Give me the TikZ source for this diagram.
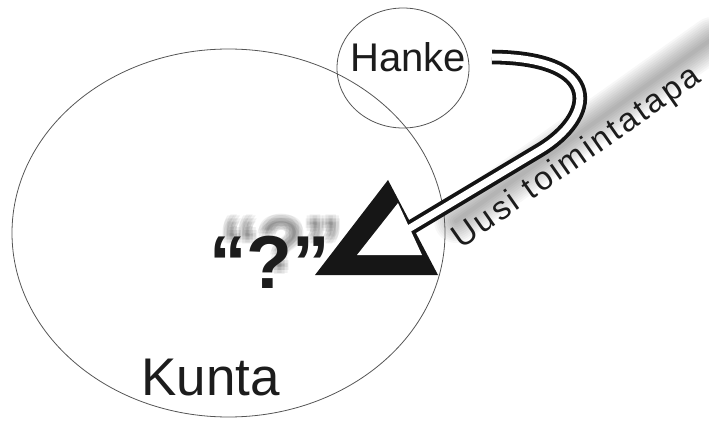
\documentclass[tikz,border=0pt]{standalone}
\usepackage{fontspec}
\setmainfont{Liberation Sans}
\usetikzlibrary{positioning}

\begin{document}
\begin{tikzpicture}[x=1pt, y=-1pt]
  \tikzset{
    rim/.style={draw={rgb,255:red,85;green,85;blue,85}, line width=0.8pt},
    tag/.style={inner sep=0pt, text={rgb,255:red,28;green,28;blue,28}},
    ribbon/.style={draw={rgb,255:red,20;green,20;blue,20}, line width=3.8pt,
      double=white, double distance=7pt},
    wedge/.style={fill={rgb,255:red,22;green,22;blue,22}},
    ghost/.style={inner sep=0pt, text=black, opacity=0.06,
      font=\fontsize{75}{75}\selectfont\bfseries},
    haze/.style={draw=black, line cap=round, opacity=0.03}
  }
  \useasboundingbox (0,0) rectangle (709,422);

  % blurred band behind the slanted text
  \coordinate (haze start) at (456,221);
  \coordinate (haze end) at (712,39);
  \foreach \w in {4,8,...,44}
    \draw[haze, line width=\w pt] (haze start) -- (haze end);

  % the two areas
  \draw[rim] (228.5,233) ellipse [x radius=216.5, y radius=184];
  \draw[rim] (403,68) ellipse [x radius=66, y radius=60];

  % blurred copy of the question
  \foreach \dx/\dy in {0/0, -3/-3, 3/-3, -3/3, 3/3, -4/0, 4/0, 0/-4, 0/4}
    \node[ghost, anchor=base west] at (221+\dx,270+\dy) {“?”};

  % arrow head
  \coordinate (outer top) at (388,180);
  \coordinate (outer left) at (315,275);
  \coordinate (outer right) at (438,275);
  \coordinate (inner top) at (398,203);
  \coordinate (inner left) at (357,255);
  \coordinate (inner right) at (422,255);
  \fill[wedge] (outer top) -- (outer left) -- (outer right) -- cycle;

  % ribbon from Hanke into the head
  \coordinate (ribbon start) at (492,57);
  \coordinate (ribbon bend) at (540,150);
  \coordinate (ribbon end) at (400,234);
  \draw[ribbon] (ribbon start) .. controls (605,58) and (595,117) .. (ribbon bend)
    -- (ribbon end);
  \fill[white] (inner top) -- (inner left) -- (inner right) -- cycle;

  % texts
  \node[tag, font=\fontsize{40}{40}\selectfont, anchor=base] (hanke) at (408,72) {Hanke};
  \node[tag, font=\fontsize{53}{53}\selectfont, anchor=base west] (kunta) at (141,395) {Kunta};
  \node[tag, font=\fontsize{75}{75}\selectfont\bfseries, anchor=base west] (query) at (209,288) {“?”};
  \node[tag, font=\fontsize{33}{33}\selectfont\addfontfeature{LetterSpace=8},
    rotate=35, anchor=base west] (way) at (461,250) {Uusi toimintatapa};
\end{tikzpicture}
\end{document}
